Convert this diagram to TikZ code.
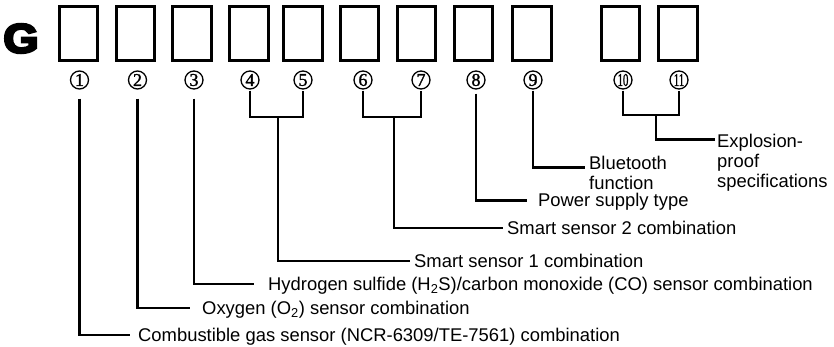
\documentclass[tikz,border=0pt]{standalone}
\usepackage{fontspec}
\setmainfont{Liberation Sans}
\newfontfamily\serifnum[FakeBold=1.5]{Liberation Serif}
\newfontfamily\gfont[FakeBold=6]{Liberation Sans}
\usepackage{graphicx}
\begin{document}
\begin{tikzpicture}[x=1pt,y=-1pt,
  slot/.style={draw, line width=2.6pt, minimum width=38.5pt, minimum height=54.5pt, inner sep=0pt},
  num/.style={circle, draw, line width=1.3pt, minimum size=18pt, inner sep=0pt, font=\serifnum\fontsize{18}{18}\selectfont},
  lab/.style={inner sep=0pt, anchor=base west, font=\fontsize{18.4}{20}\selectfont},
  mlab/.style={inner sep=0pt, anchor=north west, align=left, font=\fontsize{18.4}{20}\selectfont},
  conn/.style={draw, line width=2.7pt, line join=miter}]
\useasboundingbox (0,0) rectangle (834,347);
\node[font=\gfont\bfseries\fontsize{41}{41}\selectfont, inner sep=0pt] (g) at (21,38.5) {\scalebox{1.1}[1]{G}};
% boxes
\node[slot] (b1) at (78.5,33.5) {};
\node[slot] (b2) at (135.5,33.5) {};
\node[slot] (b3) at (192,33.5) {};
\node[slot] (b4) at (249,33.5) {};
\node[slot] (b5) at (303,33.5) {};
\node[slot] (b6) at (359.5,33.5) {};
\node[slot] (b7) at (416.5,33.5) {};
\node[slot] (b8) at (473.5,33.5) {};
\node[slot] (b9) at (532,33.5) {};
\node[slot] (b10) at (620.5,33.5) {};
\node[slot] (b11) at (678,33.5) {};
% circled numbers
\node[num] (c1) at (79.5,80) {1};
\node[num] (c2) at (137.5,80) {2};
\node[num] (c3) at (194,80) {3};
\node[num] (c4) at (250,80) {4};
\node[num] (c5) at (303,80) {5};
\node[num] (c6) at (363,80) {6};
\node[num] (c7) at (421,80) {7};
\node[num] (c8) at (476,80) {8};
\node[num] (c9) at (533,80) {9};
\node[num] (c10) at (623,80) {\scalebox{0.6}[1]{10}};
\node[num] (c11) at (679,80) {\scalebox{0.6}[1]{11}};
% labels
\node[lab] (l1) at (138,341) {Combustible gas sensor (NCR-6309/TE-7561) combination};
\node[lab] (l2) at (202,314) {Oxygen (O\textsubscript{2}) sensor combination};
\node[lab] (l3) at (268,290) {Hydrogen sulfide (H\textsubscript{2}S)/carbon monoxide (CO) sensor combination};
\node[lab] (l4) at (414,267) {Smart sensor 1 combination};
\node[lab] (l6) at (507,234) {Smart sensor 2 combination};
\node[lab] (l8) at (538,206.5) {Power supply type};
\node[mlab] (l9) at (589,155.8) {Bluetooth\\function};
\node[mlab] (l10) at (717,133.8) {Explosion-\\proof\\specifications};
% junctions
\coordinate (m45) at (278,117);
\coordinate (m67) at (394,117);
\coordinate (m1011) at (656,115);
% connectors
\draw[conn] (c1.south) ++(0,9) |- ([xshift=-8pt,yshift=6pt]l1.base west);
\draw[conn] (c2.south) ++(0,9) |- ([xshift=-12pt,yshift=6pt]l2.base west);
\draw[conn] (c3.south) ++(0,9) |- ([xshift=-14pt,yshift=6pt]l3.base west);
\draw[conn] ([yshift=-1pt]c4.south) |- (m45) -| ([yshift=-1pt]c5.south);
\draw[conn] (m45) |- ([xshift=-4pt,yshift=6pt]l4.base west);
\draw[conn] ([yshift=-1pt]c6.south) |- (m67) -| ([yshift=-1pt]c7.south);
\draw[conn] (m67) |- ([xshift=-4pt,yshift=6pt]l6.base west);
\draw[conn] (c8.south) ++(0,4) |- ([xshift=-11pt,yshift=6pt]l8.base west);
\draw[conn] (c9.south) ++(0,1) |- ([xshift=-4pt,yshift=-12pt]l9.north west);
\draw[conn] ([yshift=-1pt]c10.south) |- (m1011) -| ([yshift=-1pt]c11.south);
\draw[conn] (m1011) |- ([xshift=-2pt,yshift=-6pt]l10.north west);
\end{tikzpicture}
\end{document}
